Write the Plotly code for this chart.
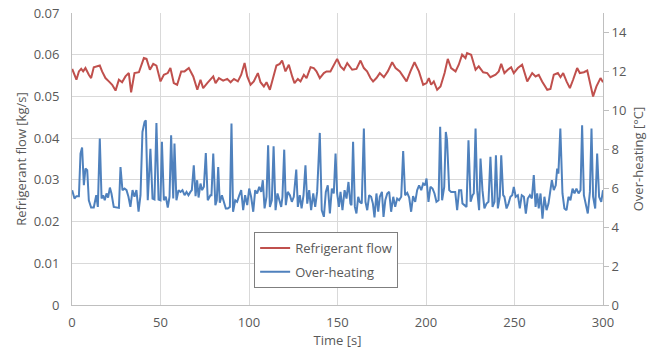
import plotly.graph_objects as go

flow_t = [0.1, 2.5, 3.9, 5.2, 6.3, 7.6, 9.5, 10.8, 12.3, 14.2, 15.7, 17.0, 18.9, 20.8, 22.7, 24.6, 26.5, 28.3, 30.2, 32.1,
          33.4, 35.3, 37.8, 40.6, 42.1, 44.0, 45.9, 47.7, 50.0, 51.9, 54.1, 55.6, 57.5, 59.4, 61.7, 63.6, 66.0, 68.5, 70.8, 72.6,
          74.1, 76.4, 78.2, 79.8, 81.1, 83.0, 85.4, 87.7, 89.6, 91.5, 93.7, 95.6, 97.5, 99.0, 100.9, 102.7, 105.0, 106.5, 108.4, 109.9,
          111.8, 113.6, 115.5, 117.4, 118.7, 120.6, 122.5, 124.4, 125.7, 127.6, 129.1, 131.0, 132.5, 134.8, 136.6, 138.1, 140.0, 142.3, 143.8, 146.0,
          147.6, 149.8, 151.7, 153.6, 155.5, 157.3, 158.3, 160.7, 163.0, 164.9, 166.7, 168.6, 170.1, 172.0, 173.9, 176.2, 178.4, 180.9, 182.8, 185.2,
          187.5, 189.0, 191.2, 193.5, 196.0, 198.4, 200.3, 201.6, 202.9, 204.4, 206.3, 208.2, 210.5, 212.3, 214.2, 216.7, 218.5, 220.4, 222.3, 223.2,
          225.5, 228.0, 229.8, 232.3, 234.6, 236.4, 239.3, 241.1, 242.5, 244.3, 246.2, 248.1, 249.6, 251.9, 254.3, 257.2, 260.0, 261.9, 263.7, 265.6,
          268.5, 270.3, 272.2, 274.5, 276.0, 277.5, 279.4, 281.3, 283.1, 285.4, 286.9, 289.2, 291.1, 292.6, 294.4, 296.3, 298.6, 300.0]
flow_v = [0.0566, 0.0540, 0.0560, 0.0566, 0.0560, 0.0568, 0.0552, 0.0544, 0.0570, 0.0572, 0.0574, 0.0560, 0.0544, 0.0536, 0.0528, 0.0514, 0.0540, 0.0534, 0.0548, 0.0556,
          0.0510, 0.0556, 0.0558, 0.0592, 0.0590, 0.0564, 0.0578, 0.0574, 0.0536, 0.0552, 0.0556, 0.0568, 0.0532, 0.0528, 0.0560, 0.0560, 0.0568, 0.0548, 0.0516, 0.0540,
          0.0520, 0.0532, 0.0540, 0.0548, 0.0532, 0.0544, 0.0538, 0.0542, 0.0534, 0.0542, 0.0536, 0.0552, 0.0580, 0.0548, 0.0528, 0.0536, 0.0556, 0.0534, 0.0524, 0.0534,
          0.0516, 0.0544, 0.0574, 0.0578, 0.0586, 0.0560, 0.0576, 0.0548, 0.0532, 0.0542, 0.0536, 0.0552, 0.0544, 0.0570, 0.0568, 0.0560, 0.0544, 0.0556, 0.0560, 0.0560,
          0.0572, 0.0590, 0.0572, 0.0564, 0.0580, 0.0570, 0.0564, 0.0566, 0.0586, 0.0568, 0.0560, 0.0544, 0.0536, 0.0544, 0.0556, 0.0546, 0.0560, 0.0582, 0.0568, 0.0560,
          0.0544, 0.0536, 0.0560, 0.0582, 0.0560, 0.0528, 0.0532, 0.0544, 0.0528, 0.0536, 0.0516, 0.0524, 0.0556, 0.0590, 0.0568, 0.0560, 0.0576, 0.0600, 0.0592, 0.0604,
          0.0600, 0.0564, 0.0572, 0.0558, 0.0556, 0.0546, 0.0552, 0.0560, 0.0578, 0.0556, 0.0564, 0.0570, 0.0556, 0.0568, 0.0576, 0.0536, 0.0556, 0.0548, 0.0552, 0.0536,
          0.0516, 0.0518, 0.0552, 0.0556, 0.0546, 0.0556, 0.0536, 0.0520, 0.0540, 0.0568, 0.0556, 0.0558, 0.0562, 0.0532, 0.0500, 0.0524, 0.0544, 0.0534]

heat_t = [0.1, 1.4, 2.5, 3.9, 4.8, 5.7, 6.7, 7.6, 8.6, 9.5, 10.8, 12.3, 13.7, 14.6, 15.7, 16.7, 17.6, 18.5, 19.5, 20.4,
          21.4, 22.3, 23.6, 25.1, 26.5, 27.4, 28.5, 29.7, 30.8, 31.9, 33.0, 34.2, 35.3, 36.4, 37.6, 38.7, 39.8, 41.0, 41.7, 42.8,
          44.3, 45.5, 46.6, 47.7, 48.9, 50.0, 50.8, 51.9, 53.0, 54.1, 55.1, 56.0, 57.2, 57.9, 59.0, 60.2, 61.3, 62.4, 63.6, 64.7,
          65.8, 66.9, 67.7, 68.8, 69.8, 70.7, 71.5, 72.6, 73.5, 74.5, 75.6, 76.7, 78.2, 78.8, 79.8, 81.0, 81.8, 82.6, 83.5, 84.7,
          85.8, 86.9, 88.0, 89.2, 90.1, 91.0, 92.2, 93.3, 94.5, 95.6, 96.7, 97.8, 99.0, 100.1, 101.2, 102.4, 103.5, 104.6, 105.8, 106.9,
          107.8, 108.8, 109.9, 110.8, 111.8, 112.9, 113.9, 115.0, 116.1, 117.0, 118.2, 118.9, 119.9, 120.8, 121.9, 123.1, 124.2, 125.3, 126.7, 127.6,
          128.7, 129.7, 130.8, 131.9, 132.9, 134.0, 135.1, 136.3, 137.4, 138.5, 140.0, 141.1, 142.3, 143.4, 144.5, 145.7, 146.8, 147.9, 148.9, 149.8,
          150.8, 151.7, 152.8, 154.0, 155.1, 156.2, 157.3, 157.9, 158.8, 159.8, 160.7, 161.7, 162.6, 163.7, 164.9, 165.8, 166.8, 167.9, 169.0, 170.0,
          170.9, 172.0, 173.0, 173.9, 175.1, 176.0, 177.0, 178.1, 179.2, 180.3, 181.5, 182.6, 183.7, 184.8, 186.0, 187.1, 188.2, 189.4, 190.5, 191.6,
          192.7, 193.9, 195.0, 196.1, 197.3, 198.4, 199.5, 200.3, 201.4, 202.5, 203.7, 204.8, 205.9, 207.1, 208.0, 209.1, 210.3, 211.2, 211.9, 213.1,
          214.2, 215.3, 216.5, 217.6, 218.7, 219.9, 220.6, 221.7, 222.9, 224.0, 225.2, 226.3, 227.0, 228.0, 228.9, 230.0, 230.8, 231.9, 233.0, 234.2,
          235.3, 236.4, 237.6, 238.7, 239.5, 240.6, 241.7, 242.5, 243.6, 244.3, 245.5, 246.6, 247.7, 248.7, 249.6, 250.7, 251.9, 253.0, 254.1, 255.3,
          256.4, 257.5, 258.7, 259.8, 260.9, 261.9, 262.8, 263.7, 264.7, 265.8, 266.9, 268.1, 269.2, 270.3, 271.1, 272.2, 273.3, 274.1, 274.8, 275.9,
          277.1, 278.2, 279.4, 280.5, 281.6, 282.8, 283.9, 285.0, 286.2, 287.3, 288.2, 289.2, 290.3, 291.4, 292.6, 293.5, 294.4, 295.6, 296.7, 297.8,
          299.0, 300.0]
heat_v = [5.90, 5.47, 5.59, 5.59, 7.78, 8.09, 6.15, 7.01, 6.92, 5.38, 5.01, 5.01, 5.64, 5.04, 8.55, 5.47, 5.64, 5.38, 5.73, 5.52,
          6.03, 5.73, 5.04, 5.01, 4.99, 7.09, 5.90, 5.98, 5.90, 5.56, 5.04, 5.90, 5.56, 5.90, 4.79, 5.64, 8.89, 9.40, 9.49, 5.38,
          8.03, 5.47, 5.42, 9.35, 5.42, 5.38, 8.38, 5.38, 5.56, 5.01, 5.56, 8.72, 5.47, 8.29, 5.38, 5.90, 5.81, 5.90, 5.64, 5.81,
          5.64, 5.81, 5.90, 7.18, 5.59, 6.41, 5.52, 6.24, 5.90, 6.07, 7.81, 5.38, 5.64, 5.64, 7.78, 5.13, 5.38, 7.09, 5.25, 5.64,
          5.30, 4.96, 4.96, 5.04, 9.32, 4.79, 5.38, 5.30, 5.64, 5.90, 4.87, 5.64, 5.13, 5.98, 5.56, 4.79, 5.90, 5.73, 6.07, 5.81,
          6.41, 4.96, 5.56, 8.21, 5.04, 5.38, 8.15, 4.87, 5.73, 5.38, 5.04, 5.56, 7.98, 5.13, 5.81, 5.64, 5.30, 5.56, 6.96, 5.04,
          5.64, 4.96, 5.64, 7.18, 5.21, 5.90, 4.87, 5.73, 5.04, 5.81, 8.84, 4.87, 4.53, 5.81, 6.15, 4.70, 5.98, 5.73, 7.78, 5.73,
          5.04, 5.81, 4.87, 5.90, 5.47, 6.32, 5.21, 5.13, 8.38, 5.04, 4.70, 5.56, 5.30, 5.21, 9.06, 5.30, 4.87, 5.64, 5.56, 5.21,
          4.50, 5.73, 4.79, 5.56, 5.81, 4.53, 5.38, 5.73, 5.81, 4.79, 5.56, 5.04, 5.47, 5.38, 5.56, 7.91, 5.64, 5.76, 5.52, 4.79,
          5.59, 5.30, 5.90, 6.15, 5.90, 6.24, 6.15, 6.50, 5.30, 6.07, 5.98, 5.73, 5.30, 5.38, 9.15, 5.38, 6.07, 8.89, 8.46, 5.90,
          5.81, 5.81, 5.81, 4.87, 5.90, 5.90, 5.21, 5.13, 5.04, 8.46, 5.30, 5.64, 5.73, 9.06, 5.90, 4.87, 7.52, 5.90, 4.96, 5.21,
          5.30, 7.61, 5.04, 5.30, 7.69, 4.96, 5.56, 7.69, 5.64, 5.56, 4.96, 5.21, 5.56, 5.64, 6.07, 5.56, 5.64, 4.96, 5.64, 5.56,
          4.70, 5.47, 5.64, 5.47, 6.67, 5.04, 5.73, 4.96, 5.73, 4.44, 5.56, 4.87, 5.21, 5.90, 6.41, 5.90, 6.15, 7.01, 6.75, 9.06,
          5.73, 4.96, 4.87, 5.56, 5.38, 5.98, 5.73, 5.98, 5.73, 5.90, 9.23, 5.64, 5.21, 4.70, 5.81, 9.06, 5.56, 4.96, 7.78, 5.56,
          5.30, 5.90]

x_ticks = [0, 50, 100, 150, 200, 250, 300]

FONT = "Open Sans"
TXT = "#595959"
GRID = "#d9d9d9"

fig = go.Figure()
fig.add_trace(go.Scatter(x=flow_t, y=flow_v, name="Refrigerant flow", mode="lines", legendgroup="a",
                         line=dict(color="#C0504D", width=2)))
fig.add_trace(go.Scatter(x=heat_t, y=heat_v, name="Over-heating", mode="lines", yaxis="y2", legendgroup="b",
                         line=dict(color="#4F81BD", width=2)))

fig.update_layout(
    width=656, height=352,
    margin=dict(l=72, r=53, t=13, b=47),
    paper_bgcolor="white", plot_bgcolor="white",
    font=dict(family=FONT, size=12, color=TXT),
    showlegend=True,
    legend=dict(x=0.343, y=0.25, xanchor="left", yanchor="top",
                bgcolor="white", bordercolor="#7f7f7f", borderwidth=1,
                font=dict(family=FONT, size=13, color=TXT),
                traceorder="grouped", tracegroupgap=4),
    xaxis=dict(range=[0, 300], tickvals=x_ticks, showgrid=True, gridcolor=GRID, gridwidth=1,
               showline=True, linecolor="#bfbfbf", zeroline=False, ticks="", automargin=False,
               ticklabelstandoff=5, tickfont=dict(size=13),
               title=dict(text="Time [s]", font=dict(size=13, color=TXT), standoff=5)),
    yaxis=dict(range=[0, 0.07], dtick=0.01, tick0=0, showgrid=True, gridcolor=GRID, gridwidth=1,
               showline=True, linecolor="#bfbfbf", zeroline=False, ticks="", automargin=False,
               ticklabelstandoff=9, tickfont=dict(size=13),
               title=dict(text="Refrigerant flow [kg/s]", font=dict(size=13, color=TXT), standoff=4)),
    yaxis2=dict(range=[0, 15], dtick=2, tick0=0, overlaying="y", side="right", showgrid=False,
                showline=True, linecolor="#bfbfbf", zeroline=False, ticks="outside", ticklen=5,
                tickcolor="#bfbfbf", tickfont=dict(size=13), automargin=False,
                title=dict(text="Over-heating [°C]", font=dict(size=13, color=TXT), standoff=7)),
)

fig.write_html("out.html")
